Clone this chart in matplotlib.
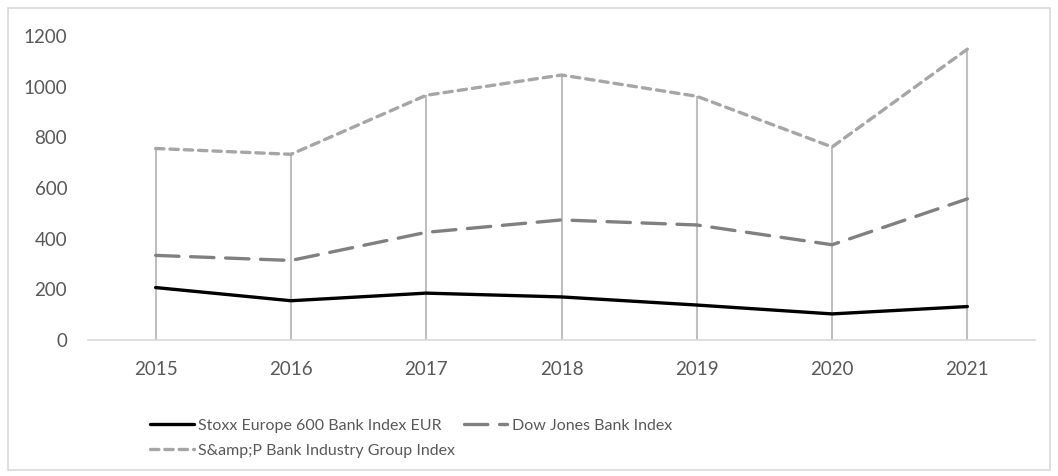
import matplotlib.pyplot as plt
from matplotlib.patches import Rectangle

years = ['2015', '2016', '2017', '2018', '2019', '2020', '2021']
stoxx = [207, 155, 185, 170, 138, 103, 132]
dow_jones = [334, 314, 425, 474, 454, 376, 557]
sp_bank = [756, 733, 966, 1046, 962, 762, 1148]
y_ticks = [0, 200, 400, 600, 800, 1000, 1200]

plt.rcParams['font.family'] = ['Lato', 'DejaVu Sans']
tick_color = '#595959'

fig = plt.figure(figsize=(10.58, 4.76), dpi=100)
ax = fig.add_axes([88 / 1058, 136 / 476, 947 / 1058, 304 / 476])
x = list(range(len(years)))

# drop lines from the top series down to the axis
ax.vlines(x, 0, sp_bank, color='#bfbfbf', lw=1.5, zorder=1)

ax.plot(x, stoxx, color='black', lw=2.4, solid_capstyle='round', zorder=3,
        label='Stoxx Europe 600 Bank Index EUR')
ax.plot(x, dow_jones, color='#808080', lw=2.4, dashes=(7, 3.5), dash_capstyle='round',
        zorder=3, label='Dow Jones Bank Index')
ax.plot(x, sp_bank, color='#a6a6a6', lw=2.4, dashes=(2.5, 1.8), dash_capstyle='round',
        zorder=3, label='S&amp;P Bank Industry Group Index')

ax.set_xlim(-0.5, len(years) - 0.5)
ax.set_ylim(0, 1200)
ax.set_xticks(x)
ax.set_xticklabels(years)
ax.set_yticks(y_ticks)
ax.tick_params(axis='both', length=0, labelsize=13.5, colors=tick_color)
ax.tick_params(axis='x', pad=15)
ax.tick_params(axis='y', pad=15)
for side in ['top', 'right', 'left']:
    ax.spines[side].set_visible(False)
ax.spines['bottom'].set_color('#d9d9d9')
ax.spines['bottom'].set_linewidth(1.2)

# excel-style flowing legend: two entries on the first row, one on the second
handles, labels = ax.get_legend_handles_labels()
leg_kw = dict(loc='upper left', frameon=False, fontsize=11.5, labelcolor=tick_color,
              handlelength=2.7, handletextpad=0.3, columnspacing=1.4)
fig.legend(handles[:2], labels[:2], ncol=2,
           bbox_to_anchor=(136 / 1058, 1 - 404 / 476), **leg_kw)
fig.legend(handles[2:], labels[2:], ncol=1,
           bbox_to_anchor=(136 / 1058, 1 - 429 / 476), **leg_kw)

# outer chart border
fig.patches.append(Rectangle((8 / 1058, 6 / 476), 1042 / 1058, 462 / 476,
                             transform=fig.transFigure, fill=False,
                             edgecolor='#d9d9d9', lw=1.2))

fig.savefig('out.png', dpi=100)
